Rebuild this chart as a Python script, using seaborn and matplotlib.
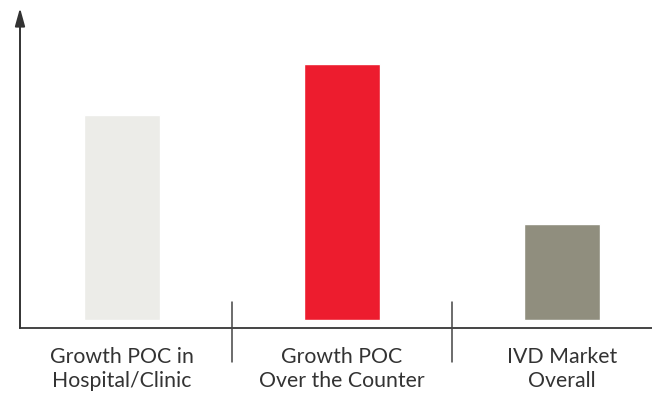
import matplotlib
matplotlib.use("Agg")
import matplotlib.pyplot as plt
import seaborn as sns
import pandas as pd

categories = ["Growth POC in\nHospital/Clinic", "Growth POC\nOver the Counter", "IVD Market\nOverall"]
values = [8.0, 10.0, 3.75]
colors = ["#ECECE8", "#ED1C2E", "#908E7E"]

sns.set_theme(style="white")
plt.rcParams['font.family'] = ['Lato', 'DejaVu Sans']

df = pd.DataFrame({"cat": categories, "val": values})

fig = plt.figure(figsize=(6.52, 3.93), dpi=100)
W, H = 652, 393
ax = fig.add_axes([20 / W, (H - 328) / H, (652 - 20) / W, (328 - 8) / H])

sns.barplot(data=df, x="cat", y="val", hue="cat", palette=colors, legend=False,
            width=76 / 220, saturation=1, ax=ax)

ax.set_xlim(-102 / 220, (652 - 122) / 220)
ax.set_ylim(-8 / 25.6, (320 - 8) / 25.6)

for s in ["top", "right", "left"]:
    ax.spines[s].set_visible(False)
ax.spines["bottom"].set_color("#444444")
ax.spines["bottom"].set_linewidth(1.4)

ax.annotate("", xy=(0, 1.0), xycoords="axes fraction", xytext=(0, 0), textcoords="axes fraction",
            arrowprops=dict(arrowstyle="-|>,head_length=0.9,head_width=0.25", color="#333333", lw=1.4,
                            shrinkA=0, shrinkB=0))

ax.set_yticks([])
ax.set_xlabel("")
ax.set_ylabel("")
ax.tick_params(axis="x", length=0, pad=14, labelsize=15.3, labelcolor="#333333")
for lab in ax.get_xticklabels():
    lab.set_linespacing(1.22)

for xpos in [0.5, 1.5]:
    ax.axvline(xpos, ymin=-34 / 320, ymax=26 / 320, color="#444444", lw=1.1, clip_on=False)

fig.savefig("out.png", dpi=100)
